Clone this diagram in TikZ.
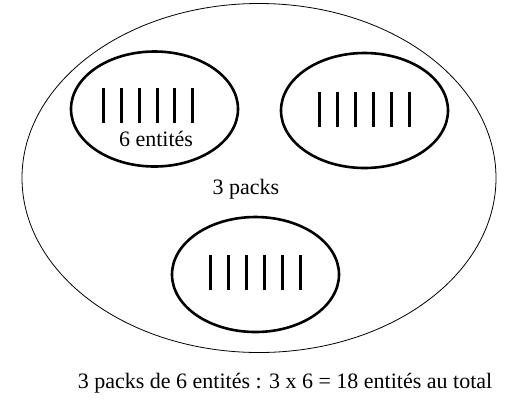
\documentclass[tikz,border=0pt]{standalone}
\usepackage{fontspec}
\setmainfont{Liberation Serif}
\usetikzlibrary{calc}
\newcommand{\drawpack}[2]
	{
	\draw[line width=2.6pt] (#1) ellipse (83.5pt and 57.5pt);
	\foreach \i in {0,...,5}
		\draw[line width=3pt] ($(#2)+(\i*17.9,0)$) -- ++(0,35);
	}

\begin{document}
\begin{tikzpicture}[x=1pt,y=-1pt,
	label text/.style={anchor=base,inner sep=0pt,font=\fontsize{22}{26}\selectfont}]

\useasboundingbox (0,0) rectangle (526,416);

% pusat elips
\coordinate (all) at (259,178);
\coordinate (P1) at (154.5,109);
\coordinate (P2) at (364.5,110.5);
\coordinate (P3) at (255.5,274.5);

% awal garis
\coordinate (B1) at (103.3,88);
\coordinate (B2) at (319.5,92);
\coordinate (B3) at (210.5,255);

% elips besar
\draw[line width=0.8pt] (all) ellipse (237pt and 174.5pt);

% tiga paket
\drawpack{P1}{B1}
\drawpack{P2}{B2}
\drawpack{P3}{B3}

% teks
\node[label text] (six) at (156,146) {6 entités};
\node[label text] (three) at (246,194) {3 packs};
\node[label text] (total) at (285,388) {3 packs de 6 entités : 3 x 6 = 18 entités au total};

\end{tikzpicture}
\end{document}
